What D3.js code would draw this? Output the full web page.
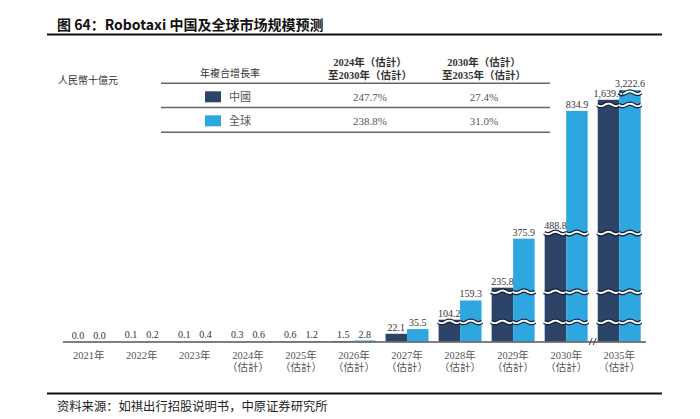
<!DOCTYPE html>
<html>
<head>
<meta charset="utf-8">
<script src="https://cdn.jsdelivr.net/npm/d3@7"></script>
<style>
  body { margin: 0; background: #fff; }
  svg { display: block; }
  .cjk { font-family: "Noto Sans CJK TC", "Noto Sans CJK SC", sans-serif; }
  .num { font-family: "Liberation Serif", "Noto Sans CJK TC", serif; }
</style>
</head>
<body>
<svg id="chart" width="700" height="419"></svg>
<script>
// data
const years = ['2021年', '2022年', '2023年', '2024年', '2025年', '2026年', '2027年', '2028年', '2029年', '2030年', '2035年'];
const estimated = [false, false, false, true, true, true, true, true, true, true, true];
const china = [0.0, 0.1, 0.1, 0.3, 0.6, 1.5, 22.1, 104.2, 235.8, 488.8, 1639.6];
const global = [0.0, 0.2, 0.4, 0.6, 1.2, 2.8, 35.5, 159.3, 375.9, 834.9, 3222.6];
const seriesNames = ['中國', '全球'];
const seriesColors = ['#2c4468', '#2ea6df'];
const cagrHeaders = ['年複合增長率', ['2024年（估計）', '至2030年（估計）'], ['2030年（估計）', '至2035年（估計）']];
const cagr2430 = ['247.7%', '238.8%'];
const cagr3035 = ['27.4%', '31.0%'];
// value ranges cut out of the axis (broken bars)
const axisBreaks = [[56, 98], [184, 224], [392, 486], [852, 1625], [1660, 3215]];
const yMax = 3250;

const svg = d3.select('#chart');
const baseY = 341.5, topY = 80.4;

// title
svg.append('text')
    .attr('x', 57).attr('y', 30)
    .attr('font-family', '"Noto Sans CJK SC", sans-serif')
    .attr('font-weight', 'bold').attr('font-size', 14)
    .attr('fill', '#111')
    .text('图 64：Robotaxi 中国及全球市场规模预测');
svg.append('line')
    .attr('x1', 47).attr('x2', 662).attr('y1', 34.5).attr('y2', 34.5)
    .attr('stroke', '#111').attr('stroke-width', 2);

svg.append('text')
    .attr('class', 'cjk')
    .attr('x', 58).attr('y', 84)
    .attr('font-size', 10).attr('fill', '#333')
    .text('人民幣十億元');

// piecewise y scale, breaks take no height
const stops = [0];
axisBreaks.forEach(b => { stops.push(b[0], b[1]); });
stops.push(yMax);
const compressed = [0];
for (let i = 1; i < stops.length; i++) {
    const inGap = i % 2 === 0;
    compressed.push(compressed[i - 1] + (inGap ? 0 : stops[i] - stops[i - 1]));
}
const yc = d3.scaleLinear().domain([0, compressed[compressed.length - 1]]).range([baseY, topY]);
const y = d3.scaleLinear().domain(stops).range(compressed.map(c => yc(c)));

const x = d3.scaleBand().domain(years).range([62, 646]).paddingInner(0.19).paddingOuter(0.1);
const xs = d3.scaleBand().domain([0, 1]).range([0, x.bandwidth()]);

const rows = years.map((yr, i) => ({ year: yr, est: estimated[i], vals: [china[i], global[i]] }));

const g = svg.append('g');
const grp = g.selectAll('g.grp').data(rows).enter().append('g')
    .attr('class', 'grp')
    .attr('transform', d => `translate(${x(d.year)},0)`);

const bars = grp.selectAll('g.bar')
    .data(d => d.vals.map((v, s) => ({ v, s })))
    .enter().append('g').attr('class', 'bar');

bars.append('rect')
    .attr('x', d => xs(d.s))
    .attr('width', xs.bandwidth())
    .attr('y', d => y(d.v))
    .attr('height', d => baseY - y(d.v))
    .attr('fill', d => seriesColors[d.s]);

// wavy break marks
const wave = d3.line().curve(d3.curveBasis);
function wavePath(x0, w, yy) {
    const pts = [];
    const n = 12;
    for (let k = 0; k <= n; k++) {
        pts.push([x0 - 0.5 + (w + 1) * k / n, yy + 1.4 * Math.sin(k / n * Math.PI * 3)]);
    }
    return wave(pts);
}
bars.each(function(d) {
    const sel = d3.select(this);
    axisBreaks.filter(b => d.v > b[1]).forEach(b => {
        const p = wavePath(xs(d.s), xs.bandwidth(), y(b[0]));
        sel.append('path').attr('d', p).attr('fill', 'none')
            .attr('stroke', '#15223a').attr('stroke-width', 4.4);
        sel.append('path').attr('d', p).attr('fill', 'none')
            .attr('stroke', '#fff').attr('stroke-width', 1.9);
    });
});

// value labels, on top of all bars
const labels = svg.append('g');
rows.forEach(r => {
    r.vals.forEach((v, s) => {
        labels.append('text')
            .attr('class', 'num')
            .attr('x', x(r.year) + xs(s) + xs.bandwidth() / 2)
            .attr('y', y(v) - 3)
            .attr('text-anchor', 'middle')
            .attr('font-size', 10).attr('fill', '#333')
            .text(d3.format(',.1f')(v));
    });
});

// axis
svg.append('line')
    .attr('x1', 63).attr('x2', 646).attr('y1', baseY + 0.5).attr('y2', baseY + 0.5)
    .attr('stroke', '#555').attr('stroke-width', 1.5);

// axis break mark between 2030 and 2035
const bx = (x('2030年') + x.bandwidth() + x('2035年')) / 2;
[-2, 2].forEach(dx => {
    svg.append('line')
        .attr('x1', bx + dx - 1.5).attr('x2', bx + dx + 1.5)
        .attr('y1', baseY + 3.5).attr('y2', baseY - 3.5)
        .attr('stroke', '#444').attr('stroke-width', 1);
});

// category labels
const lab = grp.append('text')
    .attr('class', 'num')
    .attr('text-anchor', 'middle')
    .attr('font-size', 10.5).attr('fill', '#555');
lab.append('tspan')
    .attr('x', x.bandwidth() / 2).attr('y', 359)
    .text(d => d.year);
lab.filter(d => d.est).append('tspan')
    .attr('x', x.bandwidth() / 2).attr('y', 371)
    .text('（估計）');

// CAGR table
const tbl = svg.append('g');
const colX = [230, 370, 484];
const tLeft = 161, tRight = 550;
tbl.append('text').attr('class', 'cjk')
    .attr('x', colX[0]).attr('y', 77).attr('text-anchor', 'middle')
    .attr('font-size', 10).attr('fill', '#333')
    .text(cagrHeaders[0]);
[1, 2].forEach(c => {
    const t = tbl.append('text').attr('class', 'num')
        .attr('text-anchor', 'middle').attr('font-size', 10.5)
        .attr('font-weight', 'bold').attr('fill', '#333');
    cagrHeaders[c].forEach((s, j) => {
        t.append('tspan').attr('x', colX[c]).attr('y', 65.5 + j * 13.5).text(s);
    });
});
[83.3, 107.5, 132.3].forEach(ly => {
    tbl.append('line')
        .attr('x1', tLeft).attr('x2', tRight).attr('y1', ly).attr('y2', ly)
        .attr('stroke', '#666').attr('stroke-width', 1.5);
});
seriesNames.forEach((name, i) => {
    const cy = 96.8 + i * 24;
    tbl.append('rect')
        .attr('x', 205).attr('y', cy - 5.5).attr('width', 16).attr('height', 11)
        .attr('fill', seriesColors[i]);
    tbl.append('text').attr('class', 'cjk')
        .attr('x', 229).attr('y', cy + 4)
        .attr('font-size', 11).attr('fill', '#555')
        .text(name);
    tbl.append('text').attr('class', 'num')
        .attr('x', colX[1]).attr('y', cy + 4).attr('text-anchor', 'middle')
        .attr('font-size', 11).attr('fill', '#555')
        .text(cagr2430[i]);
    tbl.append('text').attr('class', 'num')
        .attr('x', colX[2]).attr('y', cy + 4).attr('text-anchor', 'middle')
        .attr('font-size', 11).attr('fill', '#555')
        .text(cagr3035[i]);
});

// source
svg.append('line')
    .attr('x1', 47).attr('x2', 662).attr('y1', 393.5).attr('y2', 393.5)
    .attr('stroke', '#111').attr('stroke-width', 2);
svg.append('text')
    .attr('x', 57).attr('y', 410.5)
    .attr('font-family', '"Noto Sans CJK SC", sans-serif')
    .attr('font-size', 12.3).attr('fill', '#222')
    .text('资料来源：如祺出行招股说明书，中原证券研究所');
</script>
</body>
</html>
